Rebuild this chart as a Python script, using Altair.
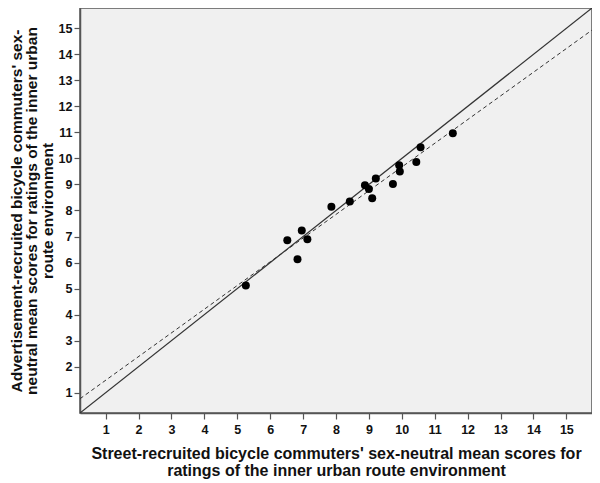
import altair as alt
import pandas as pd

# street-recruited (x) vs advertisement-recruited (y) mean scores
street = [5.26, 6.52, 6.96, 7.13, 6.83, 7.86, 8.42, 8.88, 9.00, 9.21, 9.10,
          9.73, 9.92, 9.94, 10.44, 10.57, 11.55]
advert = [5.12, 6.86, 7.23, 6.90, 6.13, 8.14, 8.35, 8.97, 8.83, 9.23, 8.47,
          9.02, 9.74, 9.50, 9.86, 10.43, 10.97]
axis_min, axis_max = 0.22, 15.78
ticks = list(range(1, 16))

pts = pd.DataFrame({"x": street, "y": advert})
diag = pd.DataFrame({"x": [axis_min, axis_max], "y": [axis_min, axis_max]})

xtitle = ["Street-recruited bicycle commuters' sex-neutral mean scores for",
          "ratings of the inner urban route environment"]
ytitle = ["Advertisement-recruited bicycle commuters' sex-",
          "neutral mean scores for ratings of the inner urban",
          "route environment"]

xs = alt.Scale(domain=[axis_min, axis_max], nice=False, zero=False)
ys = alt.Scale(domain=[axis_min, axis_max], nice=False, zero=False)

common = dict(values=ticks, grid=False, tickSize=6, labelOverlap=False,
              labelFontSize=12.5, labelFontWeight="bold", labelColor="#111",
              titleFontWeight="bold", titleColor="#111",
              domainColor="#555", tickColor="#555", domainWidth=1.5, tickWidth=1.2)
xaxis = alt.Axis(title=xtitle, titlePadding=10, labelPadding=4, titleFontSize=16,
                 titleLineHeight=17, **common)
yaxis = alt.Axis(title=ytitle, titlePadding=3, labelPadding=2, titleFontSize=15.5,
                 titleLineHeight=15.5, **common)

X = alt.X("x:Q", scale=xs, axis=xaxis)
Y = alt.Y("y:Q", scale=ys, axis=yaxis)

base = alt.Chart(pts)

points = base.mark_circle(size=64, color="black", opacity=1).encode(x=X, y=Y)

fit = base.transform_regression("x", "y", extent=[axis_min, axis_max]).mark_line(
    color="#333", strokeWidth=1, strokeDash=[4, 3], clip=True
).encode(x=X, y=Y)

ref = alt.Chart(diag).mark_line(color="#333", strokeWidth=1.2, clip=True).encode(
    x=X, y=Y
)

chart = alt.layer(ref, fit, points).properties(
    width=512, height=405,
    autosize=alt.AutoSizeParams(type="none"),
    padding={"left": 72, "top": 0, "right": 0, "bottom": 68},
).configure(
    font="Liberation Sans"
).configure_axis(
    labelOverlap=False
).configure_view(
    fill="#f0f0f0", stroke="#555", strokeWidth=1.5
)

chart.save("out.html", embed_options={"renderer": "svg", "actions": False})
